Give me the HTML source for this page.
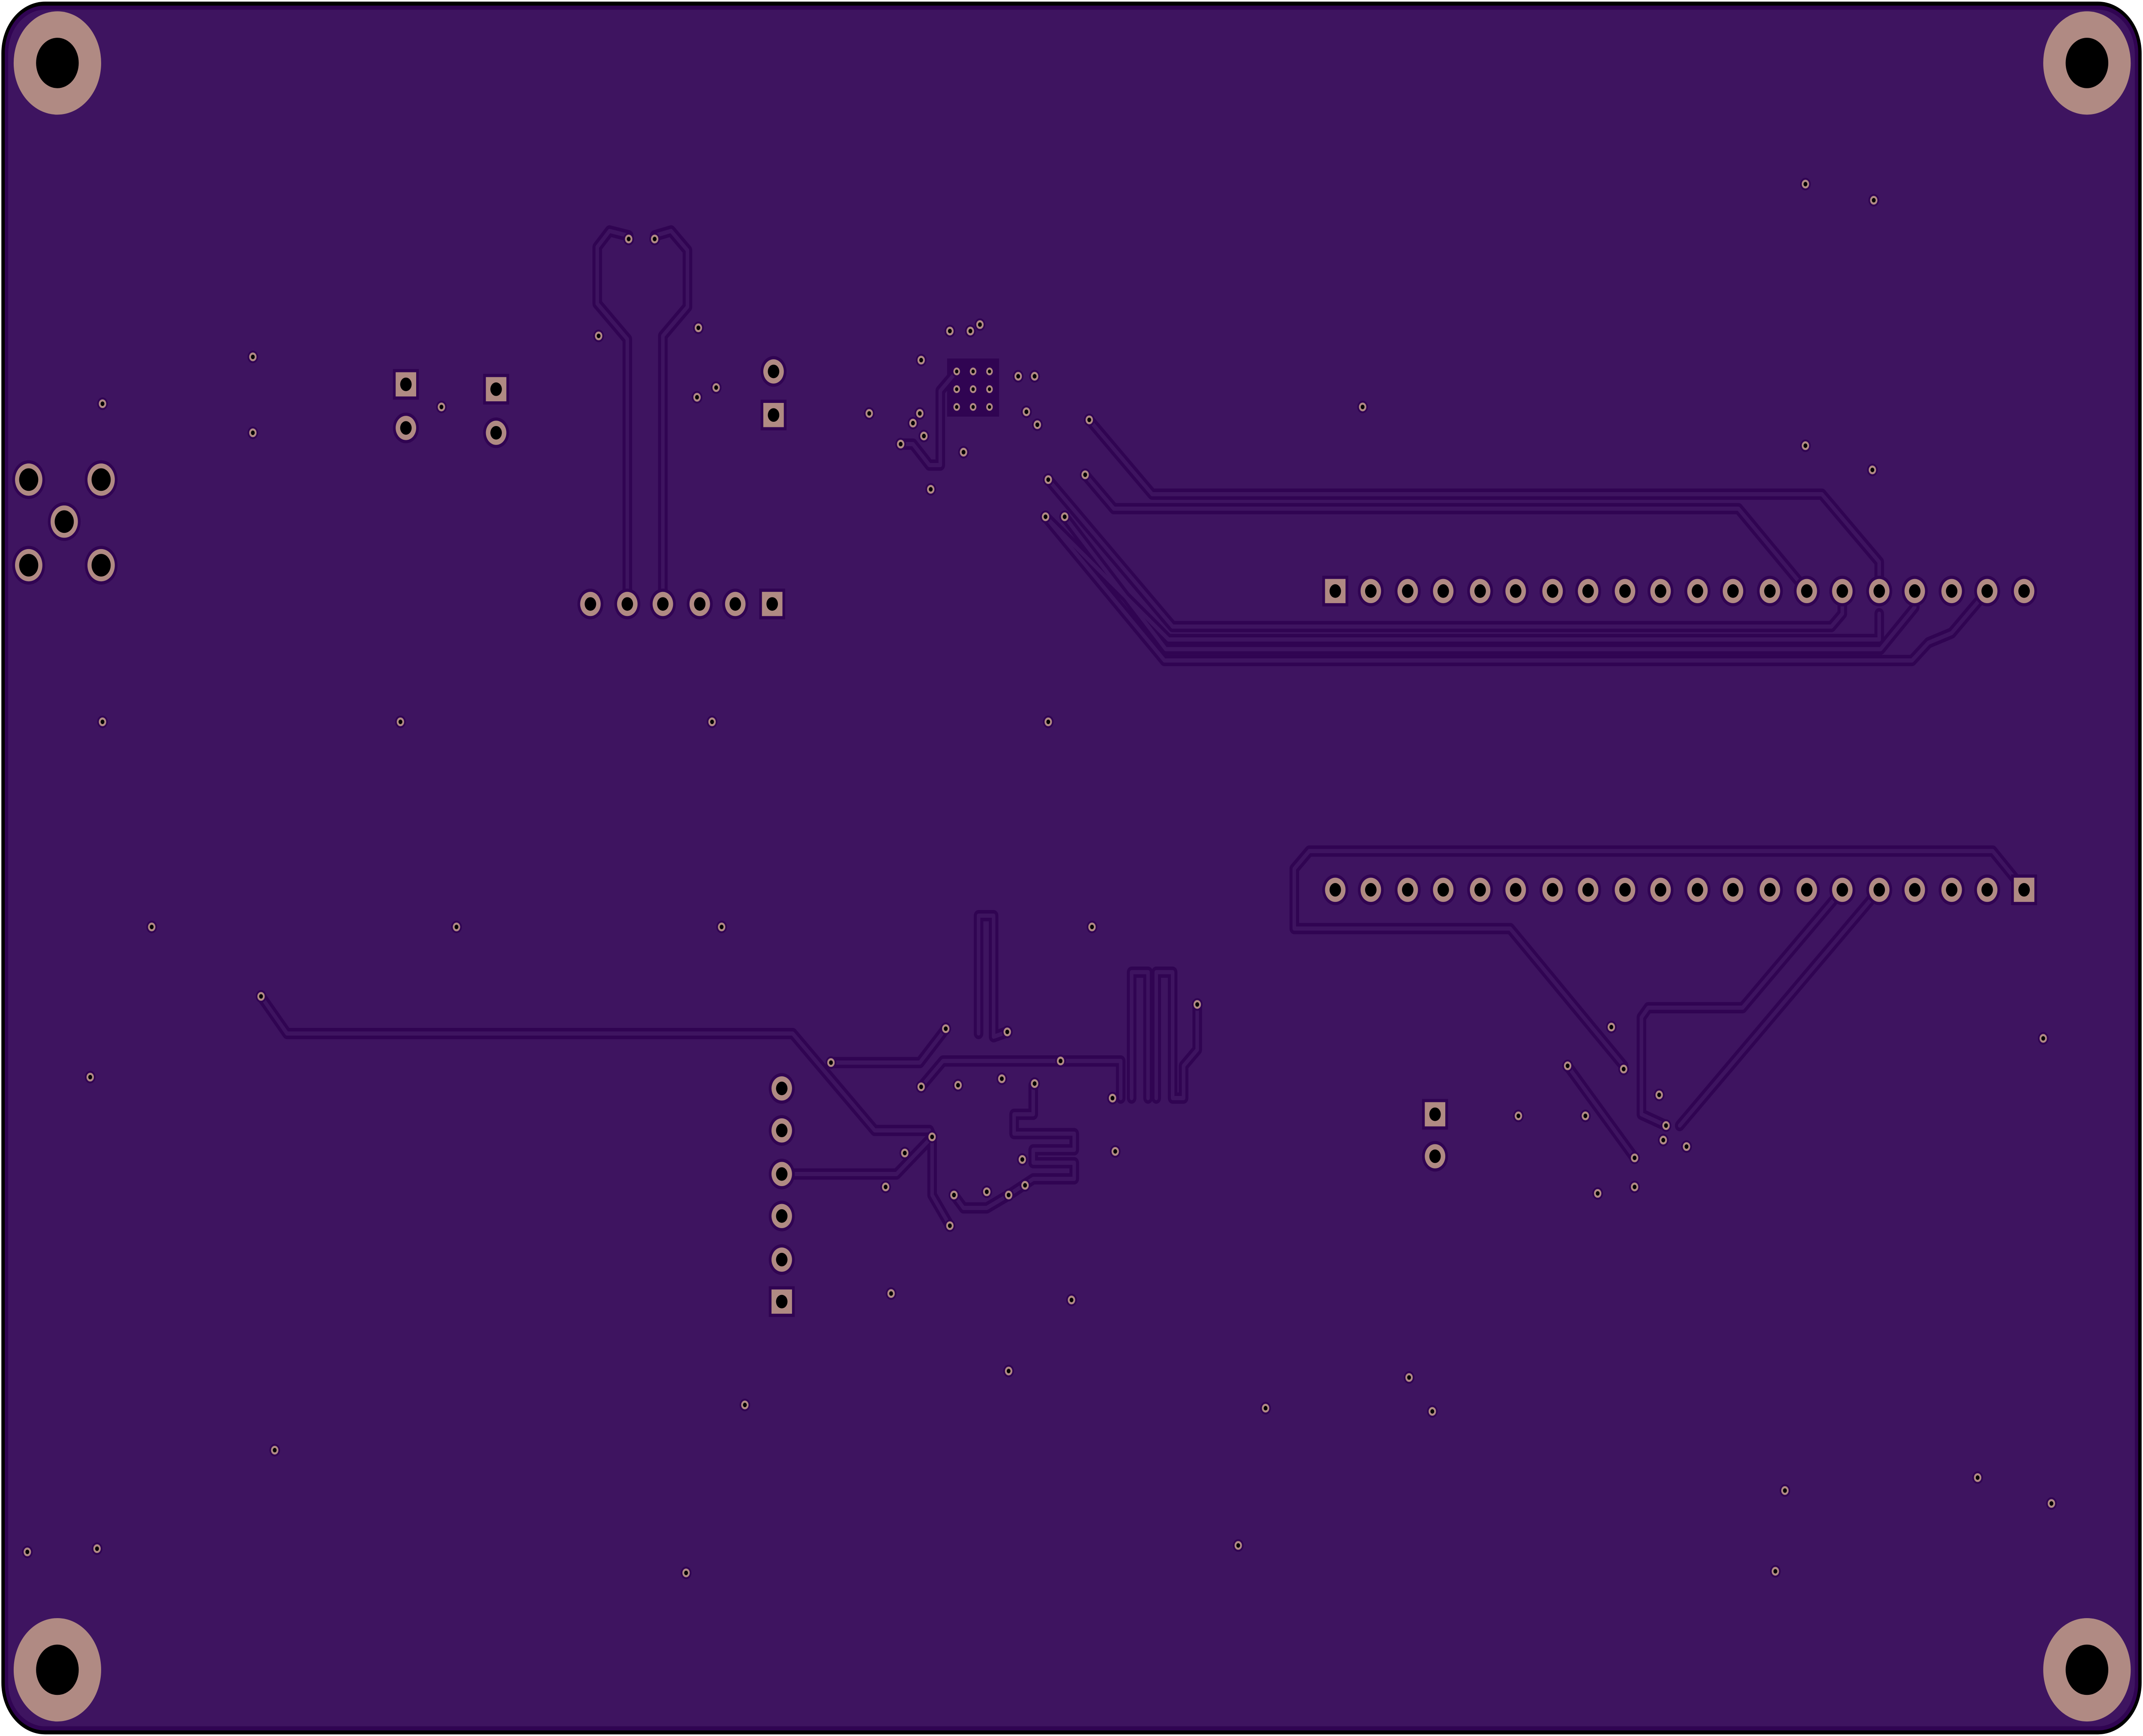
<!DOCTYPE html>
<html><head><meta charset="utf-8"><style>
html,body{margin:0;padding:0;background:#fff;overflow:hidden;width:100%;height:100%;}
svg{display:block;width:100vw;height:100vh;}
</style></head><body>
<svg viewBox="0 0 1568 1075" preserveAspectRatio="none" xmlns="http://www.w3.org/2000/svg">
<defs>
<g id="tr" fill="none" stroke-linejoin="round" stroke-linecap="round">
<path d="M459,374 L459,210 L437,188 L437,153 L446,143 L460,146"/>
<path d="M479,146 L491,143 L503,155 L503,190 L485,208 L485,374"/>
<path d="M797,260 L843,306 L1333,306 L1375,348 L1375,366"/>
<path d="M794,294 L815,315 L1272,315 L1322,366"/>
<path d="M767,297 L858,388 L1340,388 L1348,380 L1348,366"/>
<path d="M765,320 L855,396 L1375,396 L1375,380"/>
<path d="M779,320 L853,402 L1376,402 L1401,376 L1401,366"/>
<path d="M765,320 L852,409 L1399,409 L1411,398 L1428,392 L1454,366"/>
<path d="M700,230 L688,242 L688,288 L680,288 L668,275 L659,275"/>
<path d="M1481,551 L1458,527 L958,527 L947,538 L947,575 L1105,575 L1188,660"/>
<path d="M1348,551 L1275,624 L1206,624 L1201,630 L1201,690 L1219,697"/>
<path d="M1375,551 L1229,697"/>
<path d="M1147,660 L1196,717"/>
<path d="M191,617 L210,640 L580,640 L640,700 L680,700 L682,704"/>
<path d="M572,727 L656,727 L682,704 L682,740 L695,759"/>
<path d="M608,658 L673,658 L692,637"/>
<path d="M674,673 L690,657 L820,657 L820,680"/>
<path d="M716,640 L716,567 L727,567 L727,642 L737,639"/>
<path d="M828,680 L828,602 L840,602 L840,680 M846,680 L846,602 L858,602 L858,680 L866,680 L866,660 L876,650 L876,622"/>
<path d="M756,672 L756,690 L742,690 L742,702 L786,702 L786,712 L756,712 L756,720 L786,720 L786,730 L756,730 L738,740"/>
<path d="M698,740 L705,748 L722,748 L738,740"/>
</g>
</defs>
<rect x="1" y="1" width="1566" height="1073" rx="32" ry="32" fill="#000"/>
<rect x="3.5" y="3.5" width="1561" height="1068" rx="29" ry="29" fill="#300452"/>
<rect x="6" y="6" width="1556" height="1063" rx="27" ry="27" fill="#3e1460"/>
<rect x="693" y="222" width="38" height="36" fill="#300452"/>
<use href="#tr" stroke="#300452" stroke-width="7"/>
<use href="#tr" stroke="#3e1460" stroke-width="2.6"/>
<g fill="#b08a83">
<circle cx="42" cy="39" r="32"/><circle cx="1527" cy="39" r="32"/>
<circle cx="42" cy="1034" r="32"/><circle cx="1527" cy="1034" r="32"/>
</g>
<g fill="#000">
<circle cx="42" cy="39" r="15.6"/><circle cx="1527" cy="39" r="15.6"/>
<circle cx="42" cy="1034" r="15.6"/><circle cx="1527" cy="1034" r="15.6"/>
</g>
<g fill="#300452">
<circle cx="21" cy="297" r="12"/><circle cx="74" cy="297" r="12"/><circle cx="47" cy="323" r="12"/><circle cx="21" cy="350" r="12"/><circle cx="74" cy="350" r="12"/>
</g>
<g fill="#b08a83">
<circle cx="21" cy="297" r="10"/><circle cx="74" cy="297" r="10"/><circle cx="47" cy="323" r="10"/><circle cx="21" cy="350" r="10"/><circle cx="74" cy="350" r="10"/>
</g>
<g fill="#000">
<circle cx="21" cy="297" r="7"/><circle cx="74" cy="297" r="7"/><circle cx="47" cy="323" r="7"/><circle cx="21" cy="350" r="7"/><circle cx="74" cy="350" r="7"/>
</g>
<g fill="#300452">
<circle cx="1003" cy="366" r="9.5"/><circle cx="1030" cy="366" r="9.5"/><circle cx="1056" cy="366" r="9.5"/><circle cx="1083" cy="366" r="9.5"/><circle cx="1109" cy="366" r="9.5"/><circle cx="1136" cy="366" r="9.5"/><circle cx="1162" cy="366" r="9.5"/><circle cx="1189" cy="366" r="9.5"/><circle cx="1215" cy="366" r="9.5"/><circle cx="1242" cy="366" r="9.5"/><circle cx="1268" cy="366" r="9.5"/><circle cx="1295" cy="366" r="9.5"/><circle cx="1322" cy="366" r="9.5"/><circle cx="1348" cy="366" r="9.5"/><circle cx="1375" cy="366" r="9.5"/><circle cx="1401" cy="366" r="9.5"/><circle cx="1428" cy="366" r="9.5"/><circle cx="1454" cy="366" r="9.5"/><circle cx="1481" cy="366" r="9.5"/>
<circle cx="977" cy="551" r="9.5"/><circle cx="1003" cy="551" r="9.5"/><circle cx="1030" cy="551" r="9.5"/><circle cx="1056" cy="551" r="9.5"/><circle cx="1083" cy="551" r="9.5"/><circle cx="1109" cy="551" r="9.5"/><circle cx="1136" cy="551" r="9.5"/><circle cx="1162" cy="551" r="9.5"/><circle cx="1189" cy="551" r="9.5"/><circle cx="1215" cy="551" r="9.5"/><circle cx="1242" cy="551" r="9.5"/><circle cx="1268" cy="551" r="9.5"/><circle cx="1295" cy="551" r="9.5"/><circle cx="1322" cy="551" r="9.5"/><circle cx="1348" cy="551" r="9.5"/><circle cx="1375" cy="551" r="9.5"/><circle cx="1401" cy="551" r="9.5"/><circle cx="1428" cy="551" r="9.5"/><circle cx="1454" cy="551" r="9.5"/>
<circle cx="432" cy="374" r="9.5"/><circle cx="459" cy="374" r="9.5"/><circle cx="485" cy="374" r="9.5"/><circle cx="512" cy="374" r="9.5"/><circle cx="538" cy="374" r="9.5"/>
<circle cx="572" cy="674" r="9.5"/><circle cx="572" cy="700" r="9.5"/><circle cx="572" cy="727" r="9.5"/><circle cx="572" cy="753" r="9.5"/><circle cx="572" cy="780" r="9.5"/>
<circle cx="297" cy="265" r="9.5"/><circle cx="363" cy="268" r="9.5"/><circle cx="566" cy="230" r="9.5"/><circle cx="1050" cy="716" r="9.5"/>
<rect x="967.5" y="356.5" width="19" height="19"/><rect x="1471.5" y="541.5" width="19" height="19"/><rect x="555.5" y="364.5" width="19" height="19"/><rect x="562.5" y="796.5" width="19" height="19"/><rect x="287.5" y="228.5" width="19" height="19"/><rect x="353.5" y="231.5" width="19" height="19"/><rect x="556.5" y="247.5" width="19" height="19"/><rect x="1040.5" y="680.5" width="19" height="19"/>
</g>
<g fill="#b08a83">
<circle cx="1003" cy="366" r="7.5"/><circle cx="1030" cy="366" r="7.5"/><circle cx="1056" cy="366" r="7.5"/><circle cx="1083" cy="366" r="7.5"/><circle cx="1109" cy="366" r="7.5"/><circle cx="1136" cy="366" r="7.5"/><circle cx="1162" cy="366" r="7.5"/><circle cx="1189" cy="366" r="7.5"/><circle cx="1215" cy="366" r="7.5"/><circle cx="1242" cy="366" r="7.5"/><circle cx="1268" cy="366" r="7.5"/><circle cx="1295" cy="366" r="7.5"/><circle cx="1322" cy="366" r="7.5"/><circle cx="1348" cy="366" r="7.5"/><circle cx="1375" cy="366" r="7.5"/><circle cx="1401" cy="366" r="7.5"/><circle cx="1428" cy="366" r="7.5"/><circle cx="1454" cy="366" r="7.5"/><circle cx="1481" cy="366" r="7.5"/>
<circle cx="977" cy="551" r="7.5"/><circle cx="1003" cy="551" r="7.5"/><circle cx="1030" cy="551" r="7.5"/><circle cx="1056" cy="551" r="7.5"/><circle cx="1083" cy="551" r="7.5"/><circle cx="1109" cy="551" r="7.5"/><circle cx="1136" cy="551" r="7.5"/><circle cx="1162" cy="551" r="7.5"/><circle cx="1189" cy="551" r="7.5"/><circle cx="1215" cy="551" r="7.5"/><circle cx="1242" cy="551" r="7.5"/><circle cx="1268" cy="551" r="7.5"/><circle cx="1295" cy="551" r="7.5"/><circle cx="1322" cy="551" r="7.5"/><circle cx="1348" cy="551" r="7.5"/><circle cx="1375" cy="551" r="7.5"/><circle cx="1401" cy="551" r="7.5"/><circle cx="1428" cy="551" r="7.5"/><circle cx="1454" cy="551" r="7.5"/>
<circle cx="432" cy="374" r="7.5"/><circle cx="459" cy="374" r="7.5"/><circle cx="485" cy="374" r="7.5"/><circle cx="512" cy="374" r="7.5"/><circle cx="538" cy="374" r="7.5"/>
<circle cx="572" cy="674" r="7.5"/><circle cx="572" cy="700" r="7.5"/><circle cx="572" cy="727" r="7.5"/><circle cx="572" cy="753" r="7.5"/><circle cx="572" cy="780" r="7.5"/>
<circle cx="297" cy="265" r="7.5"/><circle cx="363" cy="268" r="7.5"/><circle cx="566" cy="230" r="7.5"/><circle cx="1050" cy="716" r="7.5"/>
<rect x="969.5" y="358.5" width="15" height="15"/><rect x="1473.5" y="543.5" width="15" height="15"/><rect x="557.5" y="366.5" width="15" height="15"/><rect x="564.5" y="798.5" width="15" height="15"/><rect x="289.5" y="230.5" width="15" height="15"/><rect x="355.5" y="233.5" width="15" height="15"/><rect x="558.5" y="249.5" width="15" height="15"/><rect x="1042.5" y="682.5" width="15" height="15"/>
</g>
<g fill="#000">
<circle cx="977" cy="366" r="4.2"/><circle cx="1003" cy="366" r="4.2"/><circle cx="1030" cy="366" r="4.2"/><circle cx="1056" cy="366" r="4.2"/><circle cx="1083" cy="366" r="4.2"/><circle cx="1109" cy="366" r="4.2"/><circle cx="1136" cy="366" r="4.2"/><circle cx="1162" cy="366" r="4.2"/><circle cx="1189" cy="366" r="4.2"/><circle cx="1215" cy="366" r="4.2"/><circle cx="1242" cy="366" r="4.2"/><circle cx="1268" cy="366" r="4.2"/><circle cx="1295" cy="366" r="4.2"/><circle cx="1322" cy="366" r="4.2"/><circle cx="1348" cy="366" r="4.2"/><circle cx="1375" cy="366" r="4.2"/><circle cx="1401" cy="366" r="4.2"/><circle cx="1428" cy="366" r="4.2"/><circle cx="1454" cy="366" r="4.2"/><circle cx="1481" cy="366" r="4.2"/>
<circle cx="977" cy="551" r="4.2"/><circle cx="1003" cy="551" r="4.2"/><circle cx="1030" cy="551" r="4.2"/><circle cx="1056" cy="551" r="4.2"/><circle cx="1083" cy="551" r="4.2"/><circle cx="1109" cy="551" r="4.2"/><circle cx="1136" cy="551" r="4.2"/><circle cx="1162" cy="551" r="4.2"/><circle cx="1189" cy="551" r="4.2"/><circle cx="1215" cy="551" r="4.2"/><circle cx="1242" cy="551" r="4.2"/><circle cx="1268" cy="551" r="4.2"/><circle cx="1295" cy="551" r="4.2"/><circle cx="1322" cy="551" r="4.2"/><circle cx="1348" cy="551" r="4.2"/><circle cx="1375" cy="551" r="4.2"/><circle cx="1401" cy="551" r="4.2"/><circle cx="1428" cy="551" r="4.2"/><circle cx="1454" cy="551" r="4.2"/><circle cx="1481" cy="551" r="4.2"/>
<circle cx="432" cy="374" r="4.2"/><circle cx="459" cy="374" r="4.2"/><circle cx="485" cy="374" r="4.2"/><circle cx="512" cy="374" r="4.2"/><circle cx="538" cy="374" r="4.2"/><circle cx="565" cy="374" r="4.2"/>
<circle cx="572" cy="674" r="4.2"/><circle cx="572" cy="700" r="4.2"/><circle cx="572" cy="727" r="4.2"/><circle cx="572" cy="753" r="4.2"/><circle cx="572" cy="780" r="4.2"/><circle cx="572" cy="806" r="4.2"/>
<circle cx="297" cy="238" r="4.2"/><circle cx="297" cy="265" r="4.2"/><circle cx="363" cy="241" r="4.2"/><circle cx="363" cy="268" r="4.2"/><circle cx="566" cy="230" r="4.2"/><circle cx="566" cy="257" r="4.2"/><circle cx="1050" cy="690" r="4.2"/><circle cx="1050" cy="716" r="4.2"/>
</g>
<g fill="#b08a83" stroke="#300452" stroke-width="1.2">
<circle cx="185" cy="221" r="3.3"/><circle cx="75" cy="250" r="3.3"/><circle cx="185" cy="268" r="3.3"/><circle cx="323" cy="252" r="3.3"/><circle cx="438" cy="208" r="3.3"/><circle cx="460" cy="148" r="3.3"/><circle cx="479" cy="148" r="3.3"/><circle cx="511" cy="203" r="3.3"/><circle cx="510" cy="246" r="3.3"/><circle cx="524" cy="240" r="3.3"/><circle cx="636" cy="256" r="3.3"/><circle cx="674" cy="223" r="3.3"/><circle cx="695" cy="205" r="3.3"/><circle cx="710" cy="205" r="3.3"/><circle cx="717" cy="201" r="3.3"/>
<circle cx="700" cy="230" r="3"/><circle cx="712" cy="230" r="3"/><circle cx="724" cy="230" r="3"/><circle cx="700" cy="241" r="3"/><circle cx="712" cy="241" r="3"/><circle cx="724" cy="241" r="3"/><circle cx="700" cy="252" r="3"/><circle cx="712" cy="252" r="3"/><circle cx="724" cy="252" r="3"/>
<circle cx="745" cy="233" r="3.3"/><circle cx="757" cy="233" r="3.3"/><circle cx="751" cy="255" r="3.3"/><circle cx="759" cy="263" r="3.3"/><circle cx="668" cy="262" r="3.3"/><circle cx="673" cy="256" r="3.3"/><circle cx="676" cy="270" r="3.3"/><circle cx="659" cy="275" r="3.3"/><circle cx="705" cy="280" r="3.3"/><circle cx="681" cy="303" r="3.3"/><circle cx="797" cy="260" r="3.3"/><circle cx="767" cy="297" r="3.3"/><circle cx="794" cy="294" r="3.3"/><circle cx="765" cy="320" r="3.3"/><circle cx="779" cy="320" r="3.3"/><circle cx="997" cy="252" r="3.3"/><circle cx="1321" cy="114" r="3.3"/><circle cx="1371" cy="124" r="3.3"/><circle cx="1321" cy="276" r="3.3"/><circle cx="1370" cy="291" r="3.3"/>
<circle cx="75" cy="447" r="3.3"/><circle cx="293" cy="447" r="3.3"/><circle cx="521" cy="447" r="3.3"/><circle cx="767" cy="447" r="3.3"/><circle cx="111" cy="574" r="3.3"/><circle cx="334" cy="574" r="3.3"/><circle cx="528" cy="574" r="3.3"/><circle cx="799" cy="574" r="3.3"/><circle cx="191" cy="617" r="3.3"/><circle cx="66" cy="667" r="3.3"/><circle cx="876" cy="622" r="3.3"/><circle cx="692" cy="637" r="3.3"/><circle cx="737" cy="639" r="3.3"/><circle cx="608" cy="658" r="3.3"/><circle cx="776" cy="657" r="3.3"/><circle cx="674" cy="673" r="3.3"/><circle cx="701" cy="672" r="3.3"/><circle cx="733" cy="668" r="3.3"/><circle cx="757" cy="671" r="3.3"/><circle cx="814" cy="680" r="3.3"/><circle cx="682" cy="704" r="3.3"/><circle cx="662" cy="714" r="3.3"/><circle cx="748" cy="718" r="3.3"/><circle cx="750" cy="734" r="3.3"/><circle cx="816" cy="713" r="3.3"/><circle cx="648" cy="735" r="3.3"/><circle cx="698" cy="740" r="3.3"/><circle cx="722" cy="738" r="3.3"/><circle cx="738" cy="740" r="3.3"/><circle cx="695" cy="759" r="3.3"/><circle cx="652" cy="801" r="3.3"/><circle cx="784" cy="805" r="3.3"/><circle cx="738" cy="849" r="3.3"/><circle cx="545" cy="870" r="3.3"/><circle cx="926" cy="872" r="3.3"/><circle cx="1031" cy="853" r="3.3"/><circle cx="1048" cy="874" r="3.3"/><circle cx="201" cy="898" r="3.3"/><circle cx="20" cy="961" r="3.3"/><circle cx="71" cy="959" r="3.3"/><circle cx="502" cy="974" r="3.3"/><circle cx="906" cy="957" r="3.3"/><circle cx="1306" cy="923" r="3.3"/><circle cx="1447" cy="915" r="3.3"/><circle cx="1501" cy="931" r="3.3"/><circle cx="1299" cy="973" r="3.3"/><circle cx="1495" cy="643" r="3.3"/><circle cx="1179" cy="636" r="3.3"/><circle cx="1147" cy="660" r="3.3"/><circle cx="1188" cy="662" r="3.3"/><circle cx="1214" cy="678" r="3.3"/><circle cx="1111" cy="691" r="3.3"/><circle cx="1160" cy="691" r="3.3"/><circle cx="1219" cy="697" r="3.3"/><circle cx="1217" cy="706" r="3.3"/><circle cx="1234" cy="710" r="3.3"/><circle cx="1196" cy="717" r="3.3"/><circle cx="1169" cy="739" r="3.3"/><circle cx="1196" cy="735" r="3.3"/>
</g>
<g fill="#000">
<circle cx="185" cy="221" r="1.4"/><circle cx="75" cy="250" r="1.4"/><circle cx="185" cy="268" r="1.4"/><circle cx="323" cy="252" r="1.4"/><circle cx="438" cy="208" r="1.4"/><circle cx="460" cy="148" r="1.4"/><circle cx="479" cy="148" r="1.4"/><circle cx="511" cy="203" r="1.4"/><circle cx="510" cy="246" r="1.4"/><circle cx="524" cy="240" r="1.4"/><circle cx="636" cy="256" r="1.4"/><circle cx="674" cy="223" r="1.4"/><circle cx="695" cy="205" r="1.4"/><circle cx="710" cy="205" r="1.4"/><circle cx="717" cy="201" r="1.4"/><circle cx="700" cy="230" r="1.2"/><circle cx="712" cy="230" r="1.2"/><circle cx="724" cy="230" r="1.2"/><circle cx="700" cy="241" r="1.2"/><circle cx="712" cy="241" r="1.2"/><circle cx="724" cy="241" r="1.2"/><circle cx="700" cy="252" r="1.2"/><circle cx="712" cy="252" r="1.2"/><circle cx="724" cy="252" r="1.2"/><circle cx="745" cy="233" r="1.4"/><circle cx="757" cy="233" r="1.4"/><circle cx="751" cy="255" r="1.4"/><circle cx="759" cy="263" r="1.4"/><circle cx="668" cy="262" r="1.4"/><circle cx="673" cy="256" r="1.4"/><circle cx="676" cy="270" r="1.4"/><circle cx="659" cy="275" r="1.4"/><circle cx="705" cy="280" r="1.4"/><circle cx="681" cy="303" r="1.4"/><circle cx="797" cy="260" r="1.4"/><circle cx="767" cy="297" r="1.4"/><circle cx="794" cy="294" r="1.4"/><circle cx="765" cy="320" r="1.4"/><circle cx="779" cy="320" r="1.4"/><circle cx="997" cy="252" r="1.4"/><circle cx="1321" cy="114" r="1.4"/><circle cx="1371" cy="124" r="1.4"/><circle cx="1321" cy="276" r="1.4"/><circle cx="1370" cy="291" r="1.4"/><circle cx="75" cy="447" r="1.4"/><circle cx="293" cy="447" r="1.4"/><circle cx="521" cy="447" r="1.4"/><circle cx="767" cy="447" r="1.4"/><circle cx="111" cy="574" r="1.4"/><circle cx="334" cy="574" r="1.4"/><circle cx="528" cy="574" r="1.4"/><circle cx="799" cy="574" r="1.4"/><circle cx="191" cy="617" r="1.4"/><circle cx="66" cy="667" r="1.4"/><circle cx="876" cy="622" r="1.4"/><circle cx="692" cy="637" r="1.4"/><circle cx="737" cy="639" r="1.4"/><circle cx="608" cy="658" r="1.4"/><circle cx="776" cy="657" r="1.4"/><circle cx="674" cy="673" r="1.4"/><circle cx="701" cy="672" r="1.4"/><circle cx="733" cy="668" r="1.4"/><circle cx="757" cy="671" r="1.4"/><circle cx="814" cy="680" r="1.4"/><circle cx="682" cy="704" r="1.4"/><circle cx="662" cy="714" r="1.4"/><circle cx="748" cy="718" r="1.4"/><circle cx="750" cy="734" r="1.4"/><circle cx="816" cy="713" r="1.4"/><circle cx="648" cy="735" r="1.4"/><circle cx="698" cy="740" r="1.4"/><circle cx="722" cy="738" r="1.4"/><circle cx="738" cy="740" r="1.4"/><circle cx="695" cy="759" r="1.4"/><circle cx="652" cy="801" r="1.4"/><circle cx="784" cy="805" r="1.4"/><circle cx="738" cy="849" r="1.4"/><circle cx="545" cy="870" r="1.4"/><circle cx="926" cy="872" r="1.4"/><circle cx="1031" cy="853" r="1.4"/><circle cx="1048" cy="874" r="1.4"/><circle cx="201" cy="898" r="1.4"/><circle cx="20" cy="961" r="1.4"/><circle cx="71" cy="959" r="1.4"/><circle cx="502" cy="974" r="1.4"/><circle cx="906" cy="957" r="1.4"/><circle cx="1306" cy="923" r="1.4"/><circle cx="1447" cy="915" r="1.4"/><circle cx="1501" cy="931" r="1.4"/><circle cx="1299" cy="973" r="1.4"/><circle cx="1495" cy="643" r="1.4"/><circle cx="1179" cy="636" r="1.4"/><circle cx="1147" cy="660" r="1.4"/><circle cx="1188" cy="662" r="1.4"/><circle cx="1214" cy="678" r="1.4"/><circle cx="1111" cy="691" r="1.4"/><circle cx="1160" cy="691" r="1.4"/><circle cx="1219" cy="697" r="1.4"/><circle cx="1217" cy="706" r="1.4"/><circle cx="1234" cy="710" r="1.4"/><circle cx="1196" cy="717" r="1.4"/><circle cx="1169" cy="739" r="1.4"/><circle cx="1196" cy="735" r="1.4"/>
</g>
</svg>
</body></html>
